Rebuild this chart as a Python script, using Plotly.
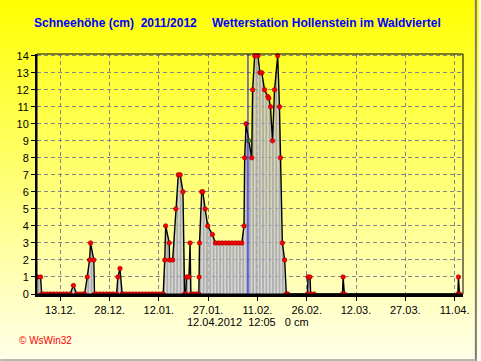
import plotly.graph_objects as go

# ---- data ----
times = [
    "2011-12-06 00:00", "2011-12-07 00:00", "2011-12-07 08:00",
    "2011-12-08 00:00", "2011-12-09 00:00", "2011-12-10 00:00", "2011-12-11 00:00",
    "2011-12-12 00:00", "2011-12-13 00:00", "2011-12-14 00:00", "2011-12-15 00:00",
    "2011-12-16 00:00", "2011-12-17 00:00", "2011-12-18 00:00", "2011-12-19 00:00",
    "2011-12-20 00:00", "2011-12-20 10:00", "2011-12-21 05:00", "2011-12-21 22:00",
    "2011-12-22 05:00", "2011-12-23 05:00", "2011-12-23 10:00",
    "2011-12-24 00:00", "2011-12-25 00:00", "2011-12-26 00:00", "2011-12-27 00:00",
    "2011-12-28 00:00", "2011-12-29 00:00", "2011-12-30 03:00", "2011-12-30 13:00",
    "2011-12-31 04:00", "2011-12-31 20:00",
    "2012-01-01 00:00", "2012-01-02 00:00", "2012-01-03 00:00", "2012-01-04 00:00",
    "2012-01-05 00:00", "2012-01-06 00:00", "2012-01-07 00:00", "2012-01-08 00:00",
    "2012-01-09 00:00", "2012-01-10 00:00", "2012-01-11 00:00", "2012-01-12 00:00",
    "2012-01-13 00:00", "2012-01-13 08:00", "2012-01-13 19:00", "2012-01-14 02:00",
    "2012-01-15 04:00", "2012-01-15 06:00", "2012-01-16 05:00", "2012-01-17 04:00",
    "2012-01-17 22:00", "2012-01-18 12:00", "2012-01-19 08:00", "2012-01-19 20:00",
    "2012-01-20 04:00", "2012-01-20 10:00", "2012-01-21 04:00", "2012-01-21 12:00",
    "2012-01-21 18:00", "2012-01-22 12:00", "2012-01-23 12:00", "2012-01-24 04:00",
    "2012-01-24 06:00", "2012-01-24 09:00", "2012-01-25 01:00", "2012-01-25 09:00",
    "2012-01-26 02:00", "2012-01-26 21:00", "2012-01-28 07:00", "2012-01-29 06:00",
    "2012-01-30 06:00", "2012-01-31 06:00", "2012-02-01 06:00", "2012-02-02 06:00",
    "2012-02-03 06:00", "2012-02-04 06:00", "2012-02-05 06:00", "2012-02-06 06:00",
    "2012-02-06 22:00", "2012-02-07 03:00", "2012-02-07 13:00", "2012-02-08 08:00",
    "2012-02-09 06:00", "2012-02-09 13:00", "2012-02-10 04:00", "2012-02-11 04:00",
    "2012-02-11 18:00", "2012-02-12 08:00", "2012-02-13 04:00", "2012-02-14 04:00",
    "2012-02-14 11:00", "2012-02-14 23:30", "2012-02-15 14:00", "2012-02-16 05:00",
    "2012-02-17 04:00", "2012-02-17 17:00", "2012-02-18 00:00", "2012-02-18 14:00",
    "2012-02-19 07:00", "2012-02-19 19:00", "2012-02-20 05:00",
    "2012-02-26 05:00", "2012-02-26 10:00", "2012-02-27 00:00", "2012-02-27 05:00",
    "2012-02-28 05:00", "2012-03-07 21:00", "2012-03-08 02:00", "2012-03-08 11:00",
    "2012-04-12 00:00", "2012-04-12 04:00", "2012-04-12 12:05",
]
snow_cm = [
    1, 1, 0,
    0, 0, 0, 0,
    0, 0, 0, 0,
    0, 0.5, 0, 0,
    0, 0, 1, 2,
    3, 2, 0,
    0, 0, 0, 0,
    0, 0, 0, 1,
    1.5, 0,
    0, 0, 0, 0,
    0, 0, 0, 0,
    0, 0, 0, 0,
    0, 0, 2, 4,
    3, 2, 2, 5,
    7, 7, 6, 0,
    0, 1, 1, 3,
    0, 0, 0, 0,
    1, 3, 6, 6,
    5, 4, 3.5, 3,
    3, 3, 3, 3,
    3, 3, 3, 3,
    4, 8, 10, 9,
    8, 12, 14, 14,
    13, 13, 12, 11.6,
    11.5, 11, 9, 12,
    14, 11, 8, 3,
    2, 0, 0,
    0, 1, 1, 0,
    0, 0, 1, 0,
    0, 1, 0,
]
highlight_time = ["2012-02-08 08:00"]
highlight_value = [9]
cursor_time = "2012-02-08 03:00"

tick_dates = ["2011-12-13", "2011-12-28", "2012-01-12", "2012-01-27", "2012-02-11",
              "2012-02-26", "2012-03-12", "2012-03-27", "2012-04-11"]
tick_labels = ["13.12.", "28.12.", "12.01.", "27.01.", "11.02.",
               "26.02.", "12.03.", "27.03.", "11.04."]
y_ticks = list(range(0, 15))

title_left = "Schneehöhe (cm)\u00a0\u00a02011/2012"
title_right = "Wetterstation Hollenstein im Waldviertel"
footer = "12.04.2012\u00a0\u00a012:05\u00a0\u00a0\u00a00\u00a0cm"
credit = "©\u00a0WsWin32"

# ---- layout geometry (pixels) ----
W, H = 481, 361
L, R, T, B = 37, 467, 54, 294
FONT = "Liberation Sans, Arial, sans-serif"


def px_x(px):
    return (px - L) / (R - L)


def px_y(py):
    return (B - py) / (B - T)


fig = go.Figure()

fig.add_trace(go.Scatter(
    x=times, y=snow_cm, mode="lines+markers",
    line=dict(color="black", width=1.4),
    marker=dict(color="#ff0000", size=4.5, line=dict(color="#900000", width=0.6)),
    fill="tozeroy",
    fillcolor="rgba(180,180,205,0.7)",
    fillpattern=dict(shape="|", size=3.3, solidity=0.3, fgcolor="#505068",
                     bgcolor="rgba(195,195,218,0.7)"),
    cliponaxis=False, showlegend=False, hoverinfo="skip",
))
fig.add_trace(go.Scatter(
    x=highlight_time, y=highlight_value, mode="markers",
    marker=dict(color="#00c000", size=4),
    cliponaxis=False, showlegend=False, hoverinfo="skip",
))

shapes = []
# background gradient (yellow -> cream)
n = 90
for i in range(n):
    y0p = i * H / n
    y1p = (i + 1) * H / n + 0.6
    f = (i + 0.5) / n
    b = int(round(235 * f))
    shapes.append(dict(type="rect", xref="paper", yref="paper",
                       x0=px_x(-2), x1=px_x(W + 2), y0=px_y(y1p), y1=px_y(y0p),
                       fillcolor=f"rgb(255,255,{b})", line=dict(width=0), layer="below"))
# plot box top/right
shapes.append(dict(type="rect", xref="paper", yref="paper", x0=0, x1=1, y0=0, y1=1,
                   line=dict(color="black", width=1), layer="above"))
# blue cursor line
shapes.append(dict(type="line", xref="x", yref="paper", x0=cursor_time, x1=cursor_time,
                   y0=0, y1=1, line=dict(color="#0000ff", width=1), layer="above"))
# window frame (right / bottom)
shapes.append(dict(type="line", xref="paper", yref="paper", x0=px_x(W - 1), x1=px_x(W - 1),
                   y0=px_y(H), y1=px_y(0), line=dict(color="#7a7a7a", width=2)))
shapes.append(dict(type="line", xref="paper", yref="paper", x0=px_x(0), x1=px_x(W),
                   y0=px_y(H - 1), y1=px_y(H - 1), line=dict(color="#a0a0a0", width=1.5)))

annotations = [
    dict(text=title_left, x=px_x(32), y=px_y(23), xref="paper", yref="paper",
         xanchor="left", yanchor="middle", showarrow=False,
         font=dict(family=FONT, size=12, color="#0000ff", weight="bold")),
    dict(text=title_right, x=px_x(447), y=px_y(23), xref="paper", yref="paper",
         xanchor="right", yanchor="middle", showarrow=False,
         font=dict(family=FONT, size=12, color="#0000ff", weight="bold")),
    dict(text=footer, x=px_x(250), y=px_y(322), xref="paper", yref="paper",
         xanchor="center", yanchor="middle", showarrow=False,
         font=dict(family=FONT, size=11, color="black")),
    dict(text=credit, x=px_x(17), y=px_y(340), xref="paper", yref="paper",
         xanchor="left", yanchor="middle", showarrow=False,
         font=dict(family=FONT, size=10, color="#ff0000")),
]

fig.update_layout(
    width=W, height=H,
    margin=dict(l=L, r=W - R, t=T, b=H - B, pad=0),
    paper_bgcolor="rgb(255,255,235)",
    plot_bgcolor="rgba(0,0,0,0)",
    shapes=shapes, annotations=annotations,
    font=dict(family=FONT, size=11, color="black"),
)
fig.update_xaxes(
    type="date", range=["2011-12-05 22:00", "2012-04-13 13:30"],
    tickvals=tick_dates, ticktext=tick_labels,
    showgrid=True, gridcolor="#84848c", griddash="4px,3px", gridwidth=1,
    showline=True, linecolor="black", linewidth=2.5,
    ticks="outside", ticklen=4, tickcolor="black",
    tickfont=dict(family=FONT, size=11, color="black"), zeroline=False,
)
fig.update_yaxes(
    range=[0, 14.1], tickvals=y_ticks,
    showgrid=True, gridcolor="#84848c", griddash="4px,3px", gridwidth=1,
    showline=True, linecolor="black", linewidth=2,
    ticks="outside", ticklen=4, tickcolor="black",
    tickfont=dict(family=FONT, size=11, color="black"), zeroline=False,
)

fig.write_html(
    "out.html",
    config={"displayModeBar": False},
    post_script="document.body.style.margin='0';document.body.style.overflow='hidden';",
)
